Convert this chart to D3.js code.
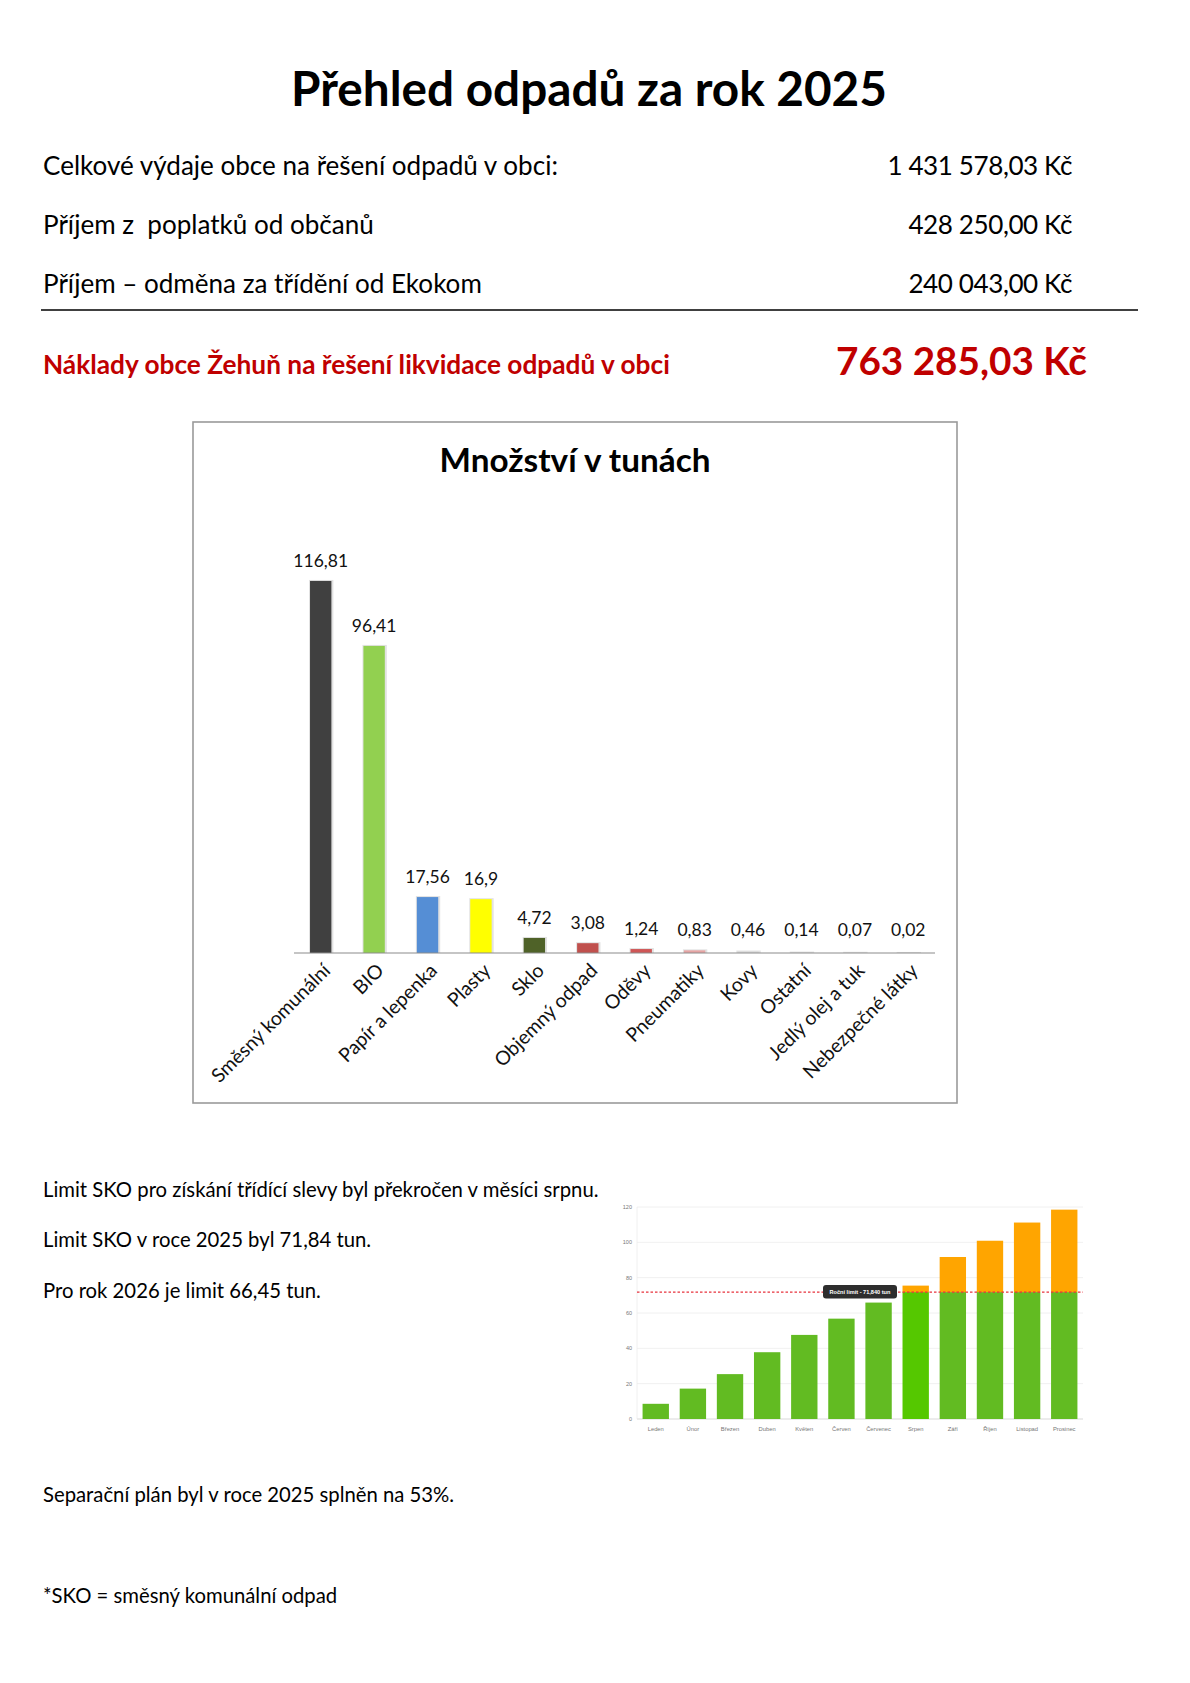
<!DOCTYPE html>
<html lang="cs">
<head>
<meta charset="utf-8">
<title>Přehled odpadů za rok 2025</title>
<script src="https://cdn.jsdelivr.net/npm/d3@7"></script>
<style>
  html, body { margin: 0; padding: 0; background: #fff; }
  svg { display: block; font-family: Lato, "Open Sans", sans-serif; }
  text { white-space: pre; }
</style>
</head>
<body>
<svg id="page" width="1190" height="1683"></svg>
<script>
// ---- data ----
const pageTitle = "Přehled odpadů za rok 2025";
const budgetRows = [
  ["Celkové výdaje obce na řešení odpadů v obci:", "1 431 578,03 Kč"],
  ["Příjem z  poplatků od občanů", "428 250,00 Kč"],
  ["Příjem – odměna za třídění od Ekokom", "240 043,00 Kč"]
];
const netLabel = "Náklady obce Žehuň na řešení likvidace odpadů v obci";
const netValue = "763 285,03 Kč";

const wasteTitle = "Množství v tunách";
const categories = ["Směsný komunální", "BIO", "Papír a lepenka", "Plasty", "Sklo",
  "Objemný odpad", "Oděvy", "Pneumatiky", "Kovy", "Ostatní", "Jedlý olej a tuk", "Nebezpečné látky"];
const tonnes = [116.81, 96.41, 17.56, 16.9, 4.72, 3.08, 1.24, 0.83, 0.46, 0.14, 0.07, 0.02];

const months = ["Leden", "Únor", "Březen", "Duben", "Květen", "Červen",
  "Červenec", "Srpen", "Září", "Říjen", "Listopad", "Prosinec"];
const cumulativeSko = [8.6, 17.2, 25.4, 37.8, 47.6, 56.8, 65.9, 75.5, 91.7, 100.9, 111.2, 118.5];
const skoLimit = 71.84;
const limitLabel = "Roční limit - 71,840 tun";
const skoTicks = [0, 20, 40, 60, 80, 100, 120];

const notes = [
  "Limit SKO pro získání třídící slevy byl překročen v měsíci srpnu.",
  "Limit SKO v roce 2025 byl 71,84 tun.",
  "Pro rok 2026 je limit 66,45 tun.",
  "Separační plán byl v roce 2025 splněn na 53%.",
  "*SKO = směsný komunální odpad"
];

// ---- helpers ----
const svg = d3.select("#page");

// scale font-size so the text spans the given width
function fitWidth(sel, width) {
  const w = sel.node().getComputedTextLength();
  const fs = parseFloat(sel.attr("font-size"));
  const size = fs * width / w;
  sel.attr("font-size", size);
  return size;
}
const fmt = v => String(v).replace(".", ",");

// ---- header ----
const title = svg.append("text")
  .attr("x", 589).attr("y", 106)
  .attr("text-anchor", "middle")
  .attr("font-weight", 700)
  .attr("font-size", 44)
  .text(pageTitle);
fitWidth(title, 596);

const rowY = [175, 234, 293];
const firstRow = svg.append("text")
  .attr("x", 43).attr("y", rowY[0])
  .attr("font-size", 22)
  .text(budgetRows[0][0]);
const rowSize = fitWidth(firstRow, 515);

budgetRows.forEach((r, i) => {
  if (i > 0) {
    svg.append("text")
      .attr("x", 43).attr("y", rowY[i])
      .attr("font-size", rowSize)
      .text(r[0]);
  }
  svg.append("text")
    .attr("x", 1072).attr("y", rowY[i])
    .attr("text-anchor", "end")
    .attr("font-size", rowSize)
    .attr("letter-spacing", -0.4)
    .text(r[1]);
});

svg.append("line")
  .attr("x1", 41).attr("x2", 1138)
  .attr("y1", 310).attr("y2", 310)
  .attr("stroke", "#000").attr("stroke-width", 1.5);

const net = svg.append("text")
  .attr("x", 43).attr("y", 374)
  .attr("fill", "#c00000").attr("font-weight", 700)
  .attr("font-size", 22)
  .text(netLabel);
fitWidth(net, 627);

const netVal = svg.append("text")
  .attr("x", 836).attr("y", 375)
  .attr("fill", "#c00000").attr("font-weight", 700)
  .attr("font-size", 36)
  .text(netValue);
fitWidth(netVal, 251);

// ---- chart 1: quantities in tonnes ----
svg.append("rect")
  .attr("x", 193).attr("y", 422)
  .attr("width", 764).attr("height", 681)
  .attr("fill", "#fff")
  .attr("stroke", "#9a9a9a").attr("stroke-width", 1.6);

const t1 = svg.append("text")
  .attr("x", 575).attr("y", 472)
  .attr("text-anchor", "middle")
  .attr("font-weight", 700)
  .attr("font-size", 28)
  .text(wasteTitle);
fitWidth(t1, 271);

const axisY = 953;
const x1 = d3.scaleBand().domain(categories).range([294, 935]).paddingInner(0.6).paddingOuter(0.3);
const y1 = d3.scaleLinear().domain([0, 120]).range([axisY, axisY - 120 * 3.185]);
const barColor = d3.scaleOrdinal()
  .domain(categories)
  .range(["#404040", "#92d050", "#558ed5", "#ffff00", "#4f6228", "#c0504d",
          "#cf5656", "#e6a5a4", "#d9d9d9", "#d9d9d9", "#d9d9d9", "#d9d9d9"]);

const wasteData = categories.map((c, i) => ({ c, v: tonnes[i] }));
const g1 = svg.append("g");

// soft shadow like the office chart
g1.selectAll(".shadow")
  .data(wasteData)
  .join("rect")
  .attr("x", d => x1(d.c) - 1)
  .attr("y", d => y1(d.v) - 1)
  .attr("width", x1.bandwidth() + 3)
  .attr("height", d => axisY - y1(d.v) + 1)
  .attr("fill", "#e2e2e2");

g1.selectAll(".bar")
  .data(wasteData)
  .join("rect")
  .attr("x", d => x1(d.c))
  .attr("y", d => y1(d.v))
  .attr("width", x1.bandwidth())
  .attr("height", d => axisY - y1(d.v))
  .attr("fill", d => barColor(d.c));

g1.append("line")
  .attr("x1", 294).attr("x2", 935)
  .attr("y1", axisY).attr("y2", axisY)
  .attr("stroke", "#8c8c8c").attr("stroke-width", 1.2);

g1.selectAll(".val")
  .data(wasteData)
  .join("text")
  .attr("x", d => x1(d.c) + x1.bandwidth() / 2)
  .attr("y", d => Math.min(y1(d.v) - 14, axisY - 17))
  .attr("text-anchor", "middle")
  .attr("font-size", 17.5)
  .attr("fill", "#111")
  .text(d => fmt(d.v));

g1.selectAll(".cat")
  .data(categories)
  .join("text")
  .attr("transform", d => `translate(${x1(d) + x1.bandwidth() / 2 + 6},${axisY + 14}) rotate(-45)`)
  .attr("text-anchor", "end")
  .attr("dy", "0.35em")
  .attr("font-size", 19.5)
  .attr("fill", "#111")
  .text(d => d);

// ---- chart 2: cumulative SKO vs yearly limit ----
const base2 = 1419;
const x2 = d3.scaleBand().domain(months).range([637, 1083]).paddingInner(0.29).paddingOuter(0.15);
const y2 = d3.scaleLinear().domain([0, 120]).range([base2, 1207]);
const g2 = svg.append("g").attr("font-family", "'Liberation Sans', Arial, sans-serif");

g2.selectAll(".grid")
  .data(skoTicks)
  .join("line")
  .attr("x1", 637).attr("x2", 1083)
  .attr("y1", d => y2(d)).attr("y2", d => y2(d))
  .attr("stroke", d => d === 0 ? "#cfcfcf" : "#ececec")
  .attr("stroke-width", 0.8);

g2.append("line")
  .attr("x1", 637).attr("x2", 637)
  .attr("y1", y2(120)).attr("y2", base2)
  .attr("stroke", "#ececec").attr("stroke-width", 0.8);

g2.selectAll(".ytick")
  .data(skoTicks)
  .join("text")
  .attr("x", 632)
  .attr("y", d => y2(d))
  .attr("dy", "0.35em")
  .attr("text-anchor", "end")
  .attr("font-size", 5.5)
  .attr("fill", "#777")
  .text(d => d);

const skoData = months.map((m, i) => ({ m, v: cumulativeSko[i], i }));
const overMonth = cumulativeSko.findIndex(v => v > skoLimit);

g2.selectAll(".green")
  .data(skoData)
  .join("rect")
  .attr("x", d => x2(d.m))
  .attr("y", d => y2(Math.min(d.v, skoLimit)))
  .attr("width", x2.bandwidth())
  .attr("height", d => base2 - y2(Math.min(d.v, skoLimit)))
  .attr("fill", d => d.i === overMonth ? "#55c800" : "#62bb22");

g2.selectAll(".over")
  .data(skoData.filter(d => d.v > skoLimit))
  .join("rect")
  .attr("x", d => x2(d.m))
  .attr("y", d => y2(d.v))
  .attr("width", x2.bandwidth())
  .attr("height", d => y2(skoLimit) - y2(d.v))
  .attr("fill", "#ffa500");

g2.selectAll(".month")
  .data(months)
  .join("text")
  .attr("x", d => x2(d) + x2.bandwidth() / 2)
  .attr("y", 1431)
  .attr("text-anchor", "middle")
  .attr("font-size", 5.8)
  .attr("fill", "#777")
  .text(d => d);

g2.append("line")
  .attr("x1", 637).attr("x2", 1083)
  .attr("y1", y2(skoLimit)).attr("y2", y2(skoLimit))
  .attr("stroke", "#e8323c").attr("stroke-width", 1.2)
  .attr("stroke-dasharray", "2.5,2");

const tipX = 860, tipY = y2(skoLimit);
g2.append("rect")
  .attr("x", tipX - 37).attr("y", tipY - 7)
  .attr("width", 74).attr("height", 13.5)
  .attr("rx", 3)
  .attr("fill", "#2e2e2e");
g2.append("text")
  .attr("x", tipX).attr("y", tipY)
  .attr("dy", "0.35em")
  .attr("text-anchor", "middle")
  .attr("font-size", 5.6).attr("font-weight", 700)
  .attr("fill", "#fff")
  .text(limitLabel);

// ---- notes ----
const noteY = [1197, 1247, 1298, 1502, 1603];
const n0 = svg.append("text")
  .attr("x", 43).attr("y", noteY[0])
  .attr("font-size", 17)
  .text(notes[0]);
const noteSize = fitWidth(n0, 556);
notes.slice(1).forEach((t, i) => {
  svg.append("text")
    .attr("x", 43).attr("y", noteY[i + 1])
    .attr("font-size", noteSize)
    .text(t);
});
</script>
</body>
</html>
